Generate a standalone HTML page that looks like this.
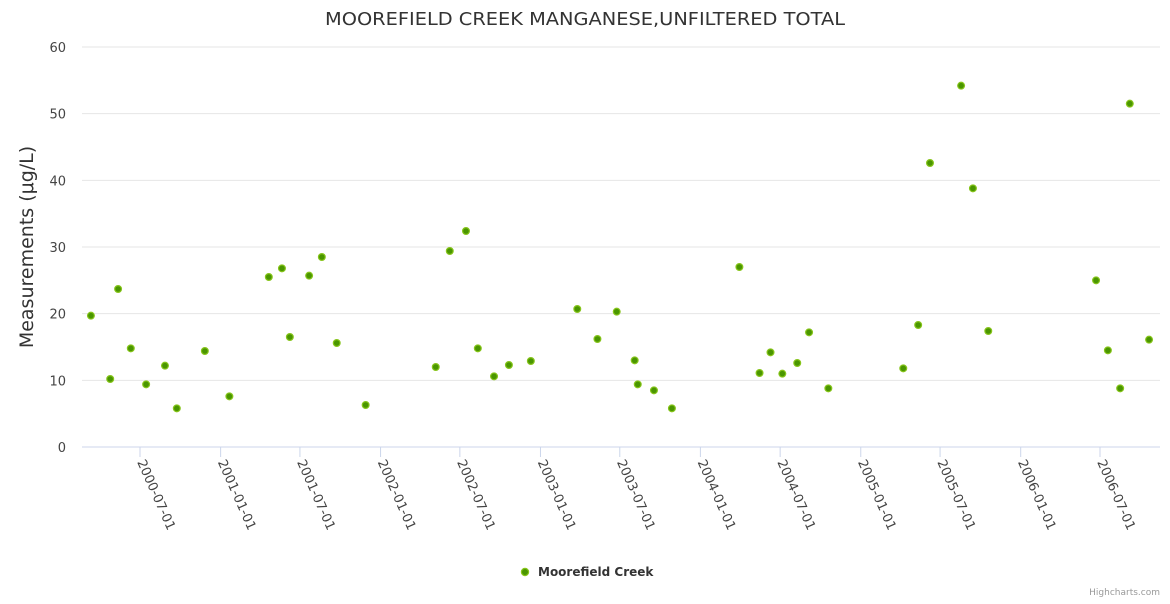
<!DOCTYPE html>
<html><head><meta charset="utf-8"><style>
body{margin:0;background:#fff;font-family:"DejaVu Sans",sans-serif}
</style></head><body>
<svg id="chart" width="1170" height="600" xmlns="http://www.w3.org/2000/svg" font-family="DejaVu Sans, sans-serif">
<text x="585" y="25" text-anchor="middle" font-size="18" textLength="520" lengthAdjust="spacingAndGlyphs" fill="#333">MOOREFIELD CREEK MANGANESE,UNFILTERED TOTAL</text>
<text transform="translate(33,247) rotate(-90)" text-anchor="middle" font-size="19" fill="#333">Measurements (μg/L)</text>
<g id="grid"></g><g id="xaxis"></g><g id="pts"></g>
<g>
<circle cx="525" cy="572" r="3.6" fill="#4a9600" stroke="#86c41a" stroke-width="1.2"/>
<text x="538" y="576" font-size="12" font-weight="bold" fill="#333">Moorefield Creek</text></g>
<text x="1160" y="595" text-anchor="end" font-size="9" fill="#999">Highcharts.com</text>
</svg>
<script>
const dates=["2000-03-11","2000-04-24","2000-05-12","2000-06-10","2000-07-15","2000-08-27","2000-09-23","2000-11-26","2001-01-21","2001-04-21","2001-05-21","2001-06-08","2001-07-22","2001-08-20","2001-09-23","2001-11-28","2002-05-07","2002-06-08","2002-07-15","2002-08-11","2002-09-17","2002-10-21","2002-12-10","2003-03-26","2003-05-11","2003-06-24","2003-08-04","2003-08-11","2003-09-17","2003-10-28","2004-03-30","2004-05-15","2004-06-09","2004-07-06","2004-08-09","2004-09-05","2004-10-19","2005-04-08","2005-05-12","2005-06-08","2005-08-18","2005-09-14","2005-10-19","2006-06-22","2006-07-19","2006-08-16","2006-09-07","2006-10-21"];
const values=[19.7,10.2,23.7,14.8,9.4,12.2,5.8,14.4,7.6,25.5,26.8,16.5,25.7,28.5,15.6,6.3,12.0,29.4,32.4,14.8,10.6,12.3,12.9,20.7,16.2,20.3,13.0,9.4,8.5,5.8,27.0,11.1,14.2,11.0,12.6,17.2,8.8,11.8,18.3,42.6,54.2,38.8,17.4,25.0,14.5,8.8,51.5,16.1];
const xTicks=["2000-07-01","2001-01-01","2001-07-01","2002-01-01","2002-07-01","2003-01-01","2003-07-01","2004-01-01","2004-07-01","2005-01-01","2005-07-01","2006-01-01","2006-07-01"];
const yTicks=[0,10,20,30,40,50,60];
const NS="http://www.w3.org/2000/svg";
const t0=Date.parse("2000-07-01"),t1=Date.parse("2006-07-01");
const X=d=>140+(Date.parse(d)-t0)/(t1-t0)*960;
const Y=v=>447-v/60*400;
function mk(tag,attrs,parent){const e=document.createElementNS(NS,tag);for(const k in attrs)e.setAttribute(k,attrs[k]);document.getElementById(parent).appendChild(e);return e;}
yTicks.forEach(v=>{
 const l=mk('line',{x1:82,x2:1160,y1:Y(v),y2:Y(v),stroke:v===0?'#ccd6eb':'#e6e6e6'},'grid');
 
 
 const t=mk('text',{x:66,y:Y(v)+5,'text-anchor':'end','font-size':13,fill:'#444'},'grid');t.textContent=v;
 
 
});
xTicks.forEach(d=>{
 const x=X(d);
 const l=mk('line',{x1:x,x2:x,y1:447,y2:457,stroke:'#ccd6eb'},'xaxis');
 
 
 const t=mk('text',{transform:`translate(${x-3},${462}) rotate(66)`,'font-size':13,fill:'#444'},'xaxis');t.textContent=d;
 
 
});
dates.forEach((d,i)=>{
 const c=mk('circle',{cx:X(d),cy:Y(values[i]),r:3.4,fill:'#4a9600',stroke:'#86c41a','stroke-width':1.2},'pts');
 
 
});
</script>
</body></html>
